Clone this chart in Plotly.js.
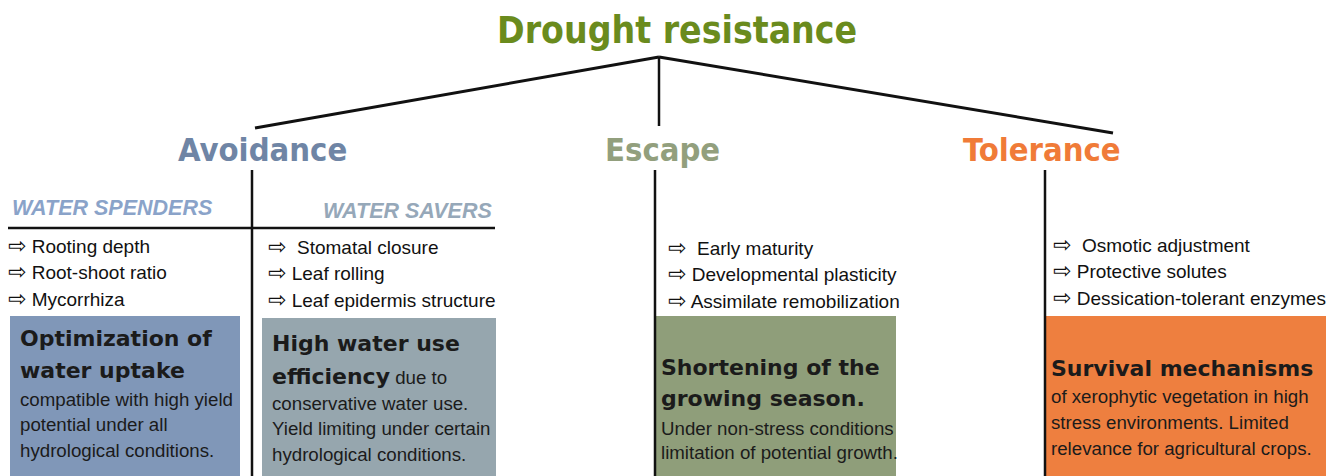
<!DOCTYPE html>
<html><head><meta charset="utf-8">
<script src="https://cdn.plot.ly/plotly-3.0.1.min.js"></script>
<style>html,body{margin:0;padding:0;background:#fff}</style>
</head><body>
<div id="chart" style="width:1326px;height:476px"></div>
<script>
// ---- content ----
const rootTitle = 'Drought resistance';
const categories = ['Avoidance', 'Escape', 'Tolerance'];
const subgroups = ['WATER SPENDERS', 'WATER SAVERS'];
const traitsSpenders = ['Rooting depth', 'Root-shoot ratio', 'Mycorrhiza'];
const traitsSavers = [' Stomatal closure', 'Leaf rolling', 'Leaf epidermis structure'];
const traitsEscape = [' Early maturity', 'Developmental plasticity', 'Assimilate remobilization'];
const traitsTolerance = [' Osmotic adjustment', 'Protective solutes', 'Dessication-tolerant enzymes'];
const boxHeads = [
  ['Optimization of', 'water uptake'],
  ['High water use', 'efficiency'],
  ['Shortening of the', 'growing season.'],
  ['Survival mechanisms']
];
const boxBodies = [
  ['compatible with high yield', 'potential under all', 'hydrological conditions.'],
  [' due to', 'conservative water use.', 'Yield limiting under certain', 'hydrological conditions.'],
  ['Under non-stress conditions', 'limitation of potential growth.'],
  ['of xerophytic vegetation in high', 'stress environments. Limited', 'relevance for agricultural crops.']
];

// ---- layout / styles ----
const W = 1326, H = 476;
const ARROW = "<span style='font-family:DejaVu Sans;font-size:22px'>\u21E8</span> ";
const cond = 'DejaVu Sans Condensed, DejaVu Sans, sans-serif';
const sans = 'Liberation Sans, Arial, sans-serif';
const heavy = 'DejaVu Sans, Verdana, sans-serif';
const catColors = ['#6f85a5', '#929f7d', '#f07b38'];
const catX = [262, 662, 1042];
const subColors = ['#8aa3c9', '#96a8b9'];
const boxColors = ['#8097b8', '#96a6ae', '#8f9e7a', '#ee7f3f'];
const boxRects = [[10, 316, 240], [262, 318, 496], [656, 316, 896], [1046, 316, 1326]];
const textDark = '#1b1b1b';

const shapes = [];
const annotations = [];
const line = (x0, y0, x1, y1, w) => shapes.push({type: 'line', xref: 'x', yref: 'y', x0, y0, x1, y1, line: {color: '#111', width: w}});

// tree
line(659, 57, 255, 128, 3);
line(659, 57, 659, 126, 2.5);
line(659, 57, 1113, 133, 3);
// column lines
line(252, 170, 252, 476, 2.5);
line(655, 170, 655, 476, 2.5);
line(1045, 170, 1045, 476, 2.5);
line(8, 228, 495, 228, 2.5);

// boxes
boxRects.forEach((r, i) => shapes.push({type: 'rect', xref: 'x', yref: 'y', x0: r[0], y0: r[1], x1: r[2], y1: H, fillcolor: boxColors[i], line: {width: 0}, layer: 'below'}));

const ann = (text, x, y, font, xanchor) => annotations.push({text, x, y, xref: 'x', yref: 'y', xanchor: xanchor || 'left', yanchor: 'middle', showarrow: false, font, align: 'left', borderpad: 0});

ann('<b>' + rootTitle + '</b>', 677, 30, {family: cond, size: 37, color: '#6a8b1d'}, 'center');
categories.forEach((c, i) => ann('<b>' + c + '</b>', catX[i], 150, {family: cond, size: 32.5, color: catColors[i]}, 'center'));
ann('<b><i>' + subgroups[0] + '</i></b>', 11, 208, {family: sans, size: 21.5, color: subColors[0]});
ann('<b><i>' + subgroups[1] + '</i></b>', 493, 211, {family: sans, size: 21.5, color: subColors[1]}, 'right');

const traitCols = [[traitsSpenders, 7, 245], [traitsSavers, 267, 246], [traitsEscape, 667, 247], [traitsTolerance, 1052, 244]];
traitCols.forEach(([list, x, y0]) => list.forEach((t, k) => ann(ARROW + t, x, y0 + k * 26.5, {family: sans, size: 19, color: '#111'})));

const headFont = {family: heavy, size: 22, color: textDark};
const bodyFont = {family: sans, size: 18.7, color: textDark};
const headSpan = s => "<span style='font-family:DejaVu Sans, Verdana, sans-serif;font-weight:bold;font-size:22px'>" + s + '</span>';
// box 1
ann('<b>' + boxHeads[0][0] + '</b>', 19, 338, headFont);
ann('<b>' + boxHeads[0][1] + '</b>', 19, 370, headFont);
boxBodies[0].forEach((t, k) => ann(t, 19, 399 + k * 25.5, bodyFont));
// box 2
ann('<b>' + boxHeads[1][0] + '</b>', 271, 343, headFont);
ann(headSpan(boxHeads[1][1]) + boxBodies[1][0], 271, 376, bodyFont);
boxBodies[1].slice(1).forEach((t, k) => ann(t, 271, 403 + k * 25.5, bodyFont));
// box 3
ann('<b>' + boxHeads[2][0] + '</b>', 660, 367, headFont);
ann('<b>' + boxHeads[2][1] + '</b>', 660, 398, headFont);
boxBodies[2].forEach((t, k) => ann(t, 660, 428 + k * 24.5, bodyFont));
// box 4
ann('<b>' + boxHeads[3][0] + '</b>', 1050, 368, headFont);
boxBodies[3].forEach((t, k) => ann(t, 1050, 396 + k * 26, bodyFont));

const layout = {
  width: W, height: H,
  margin: {l: 0, r: 0, t: 0, b: 0},
  paper_bgcolor: '#fff', plot_bgcolor: '#fff',
  showlegend: false,
  xaxis: {range: [0, W], visible: false, fixedrange: true},
  yaxis: {range: [H, 0], visible: false, fixedrange: true},
  shapes, annotations
};
Plotly.newPlot('chart', [{x: [], y: [], type: 'scatter', mode: 'markers', hoverinfo: 'skip'}], layout, {staticPlot: true, displayModeBar: false});
</script>
</body></html>
